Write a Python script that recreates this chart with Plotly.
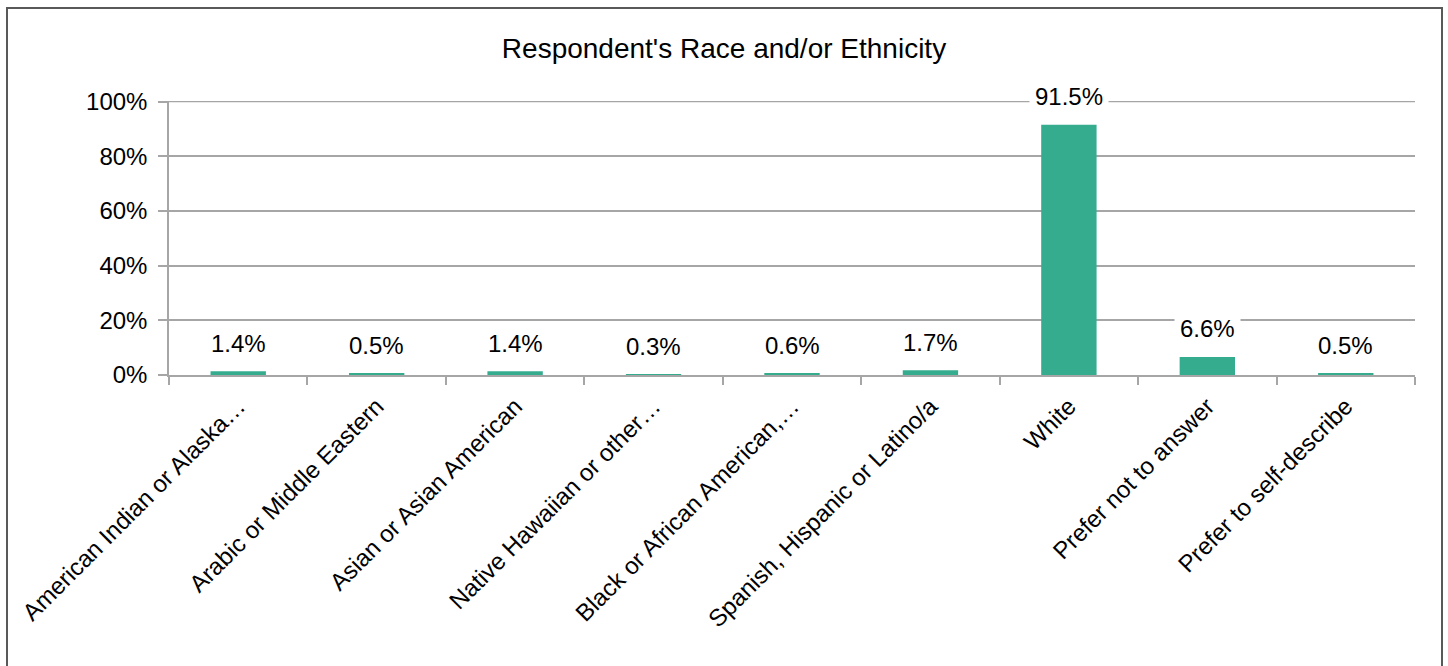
import plotly.graph_objects as go

categories = [
    "American Indian or Alaska…",
    "Arabic or Middle Eastern",
    "Asian or Asian American",
    "Native Hawaiian or other…",
    "Black or African American,…",
    "Spanish, Hispanic or Latino/a",
    "White",
    "Prefer not to answer",
    "Prefer to self-describe",
]
values = [1.4, 0.5, 1.4, 0.3, 0.6, 1.7, 91.5, 6.6, 0.5]
y_ticks = [0, 20, 40, 60, 80, 100]
y_tick_labels = ["0%", "20%", "40%", "60%", "80%", "100%"]
title_text = "Respondent's Race and/or Ethnicity"

FONT = "Liberation Sans, Arial, sans-serif"
BAR = "#36AC8E"
GRID = "#A6A6A6"

fig = go.Figure()
fig.add_trace(go.Bar(x=categories, y=values, marker=dict(color=BAR, line=dict(width=0)),
                     hoverinfo="skip"))

for c, v in zip(categories, values):
    fig.add_annotation(x=c, y=v, text=f"{v}%", showarrow=False, xref="x", yref="y",
                       yanchor="middle", yshift=28, bgcolor="white", borderpad=5,
                       font=dict(family=FONT, size=24, color="#000000"))

W, H = 1448, 666
L, R, T, B = 169, 33, 101, 291
pw, ph = W - L - R, H - T - B
# frame around the chart
x0 = (7 - L) / pw
x1 = (1442 - L) / pw
y1 = (H - B - 8) / ph
y0 = (H - B - 700) / ph
fig.add_shape(type="rect", xref="paper", yref="paper", x0=x0, x1=x1, y0=y0, y1=y1,
              line=dict(color="#595959", width=2), layer="above")
# top gridline (plotly omits the one on the plot edge)
fig.add_shape(type="line", xref="paper", yref="y", x0=0, x1=1, y0=y_ticks[-1], y1=y_ticks[-1],
              line=dict(color=GRID, width=1.5), layer="below")

fig.update_layout(
    width=W, height=H,
    margin=dict(l=L, r=R, t=T, b=B),
    paper_bgcolor="white", plot_bgcolor="white",
    bargap=0.6,
    showlegend=False,
    title=dict(text=title_text, x=0.5, xref="container", xanchor="center",
               y=1 - 48 / H, yref="container", yanchor="middle",
               font=dict(family=FONT, size=28, color="#000000")),
    font=dict(family=FONT, size=24, color="#000000"),
)
fig.update_xaxes(
    tickangle=-45, tickfont=dict(family=FONT, size=24, color="#000000"),
    showline=True, linecolor=GRID, linewidth=1.5,
    ticks="outside", ticklen=8, tickcolor=GRID, tickwidth=1.5,
    tickson="boundaries", showgrid=False, fixedrange=True,
    ticklabelstandoff=6,
)
fig.update_yaxes(
    range=[0, 100.2], tickvals=y_ticks, ticktext=y_tick_labels,
    tickfont=dict(family=FONT, size=24, color="#000000"),
    showgrid=True, gridcolor=GRID, gridwidth=1.5,
    showline=True, linecolor=GRID, linewidth=1.5,
    ticks="outside", ticklen=9, tickcolor=GRID, tickwidth=1.5,
    zeroline=False, fixedrange=True, ticklabelstandoff=6,
)

fig.write_html("out.html")
